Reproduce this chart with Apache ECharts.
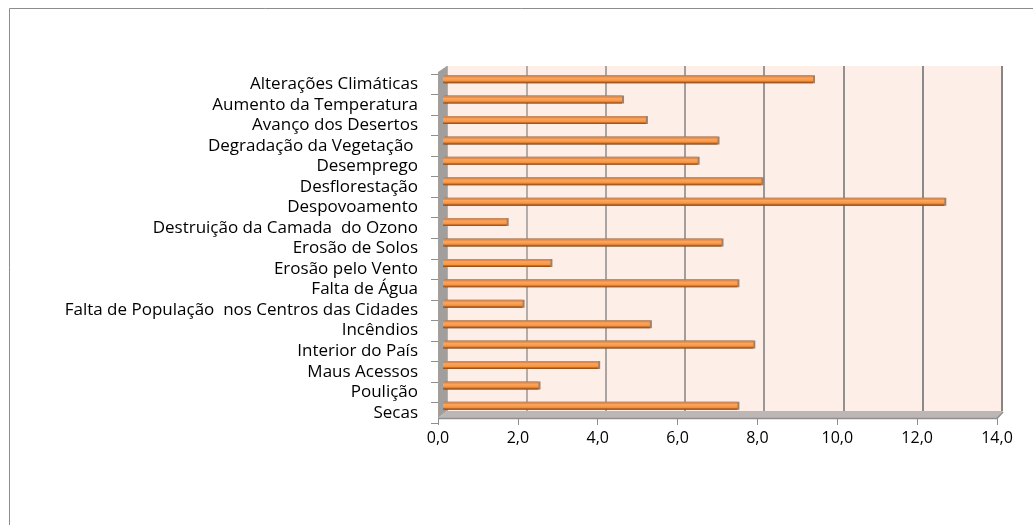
<!DOCTYPE html>
<html>
<head>
<meta charset="utf-8">
<script src="https://cdn.jsdelivr.net/npm/echarts@6/dist/echarts.min.js"></script>
<style>
  html, body { margin: 0; padding: 0; background: #ffffff; }
  #chart { width: 1033px; height: 525px; }
</style>
</head>
<body>
<div id="chart"></div>
<script>
// Problemas ambientais e sociais (valores em %)
const categories = [
  'Alterações Climáticas',
  'Aumento da Temperatura',
  'Avanço dos Desertos',
  'Degradação da Vegetação ',
  'Desemprego',
  'Desflorestação',
  'Despovoamento',
  'Destruição da Camada  do Ozono',
  'Erosão de Solos',
  'Erosão pelo Vento',
  'Falta de Água',
  'Falta de População  nos Centros das Cidades',
  'Incêndios',
  'Interior do País',
  'Maus Acessos',
  'Poulição',
  'Secas'
];
const values = [9.3, 4.5, 5.1, 6.9, 6.4, 8.0, 12.6, 1.6, 7.0, 2.7, 7.4, 2.0, 5.2, 7.8, 3.9, 2.4, 7.4];
const axisMin = 0;
const axisMax = 14;
const axisStep = 2;

const FONT = '"Open Sans", Lato, sans-serif';
const fmt = v => v.toFixed(1).replace('.', ',');

const chart = echarts.init(document.getElementById('chart'), null, { renderer: 'canvas' });

chart.setOption({
  animation: false,
  backgroundColor: '#ffffff',
  graphic: [
    // outer chart frame (top and left edges are visible)
    { type: 'rect', z: 0, silent: true, shape: { x: 9.5, y: 8.5, width: 1040, height: 540 },
      style: { fill: null, stroke: '#8c8c8c', lineWidth: 1 } },
    // left wall
    { type: 'polygon', z: 5, shape: { points: [[438, 72], [447, 66], [447, 411], [438, 418]] },
      style: { fill: '#a19e9c' } },
    // floor
    { type: 'polygon', z: 5, shape: { points: [[438, 418], [447, 411], [1003, 411], [997, 418]] },
      style: { fill: '#bcb7b4' } },
    { type: 'polyline', z: 6, shape: { points: [[438, 418.5], [997, 418.5], [1003, 412]] },
      style: { stroke: '#8f8f8f', lineWidth: 1.5, fill: null } }
  ],
  grid: [
    // bars
    { left: 443, right: 33, top: 69, bottom: 109 },
    // back wall
    { left: 447, right: 31, top: 66, bottom: 114, show: true, backgroundColor: '#fdeee7', borderWidth: 0 },
    // front value axis
    { left: 438, right: 36, top: 418, height: 0 },
    // category axis
    { left: 438, right: 36, top: 74, bottom: 102 }
  ],
  xAxis: [
    { gridIndex: 0, type: 'value', min: axisMin, max: axisMax, interval: axisStep,
      show: false },
    { gridIndex: 1, type: 'value', min: axisMin, max: axisMax, interval: axisStep,
      axisLine: { show: false }, axisTick: { show: false }, axisLabel: { show: false },
      splitLine: { show: true, lineStyle: {
        color: ['#b5aeaa', '#b3aca8', '#aaa5a2', '#a29e9c', '#9a9796', '#929090', '#8a8a8a', '#868686'],
        width: 2 } } },
    { gridIndex: 2, type: 'value', min: axisMin, max: axisMax, interval: axisStep,
      axisLine: { show: false },
      axisTick: { show: true, length: 7, lineStyle: { color: '#8f8f8f', width: 1 } },
      axisLabel: { show: true, margin: 12, color: '#000000', fontFamily: FONT, fontSize: 16,
                   formatter: fmt },
      splitLine: { show: false } },
    { gridIndex: 3, type: 'value', min: axisMin, max: axisMax, show: false }
  ],
  yAxis: [
    { gridIndex: 0, type: 'category', data: categories, inverse: true, show: false },
    { gridIndex: 1, type: 'value', min: 0, max: 1, axisLine: { show: false }, axisTick: { show: false },
      axisLabel: { show: false }, splitLine: { show: false } },
    { gridIndex: 2, type: 'value', show: false },
    { gridIndex: 3, type: 'category', data: categories, inverse: true,
      axisLine: { show: false },
      axisTick: { show: true, length: 7, interval: 0, lineStyle: { color: '#8f8f8f', width: 1 } },
      axisLabel: { interval: 0, margin: 20, color: '#000000', fontFamily: FONT, fontSize: 17 },
      splitLine: { show: false } }
  ],
  series: [
    {
      type: 'bar',
      xAxisIndex: 0,
      yAxisIndex: 0,
      data: values,
      barWidth: 8,
      z: 10,
      itemStyle: {
        color: new echarts.graphic.LinearGradient(0, 0, 0, 1, [
          { offset: 0, color: '#c28a5f' },
          { offset: 0.2, color: '#e0894a' },
          { offset: 0.35, color: '#fda55c' },
          { offset: 0.7, color: '#f7953f' },
          { offset: 0.85, color: '#b86428' },
          { offset: 1, color: '#8a4a1a' }
        ]),
        shadowColor: 'rgba(80, 40, 10, 0.55)',
        shadowBlur: 0,
        shadowOffsetX: 2,
        shadowOffsetY: 0
      }
    },
    // empty series keeps the back-wall axes drawn
    { type: 'scatter', xAxisIndex: 1, yAxisIndex: 1, data: [], silent: true }
  ]
});
</script>
</body>
</html>
